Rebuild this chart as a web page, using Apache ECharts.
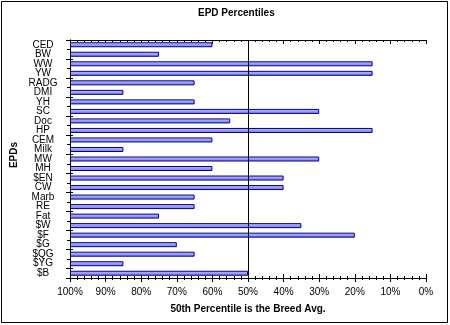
<!DOCTYPE html>
<html>
<head>
<meta charset="utf-8">
<script src="https://cdn.jsdelivr.net/npm/echarts@6/dist/echarts.min.js"></script>
<style>html,body{margin:0;padding:0;background:#fff}#c{width:450px;height:325px}</style>
</head>
<body>
<div id="c"></div>
<script>
const categories = ['CED','BW','WW','YW','RADG','DMI','YH','SC','Doc','HP','CEM','Milk','MW','MH','$EN','CW','Marb','RE','Fat','$W','$F','$G','$QG','$YG','$B'];
const percentiles = [60,75,15,15,65,85,65,30,55,15,60,85,30,60,40,40,65,65,75,35,20,70,65,85,50];
const tickLabels = ['100%','90%','80%','70%','60%','50%','40%','30%','20%','10%','0%'];
const breedAvg = 50;
const chartTitle = 'EPD Percentiles';
const xTitle = '50th Percentile is the Breed Avg.';
const yTitle = 'EPDs';

// axis runs from 100% (left) to 0% (right); bars grow from the left edge
const barData = percentiles.map(p => 100 - p);
const font = 'Liberation Sans, Arial, sans-serif';

const chart = echarts.init(document.getElementById('c'), null, {renderer: 'canvas'});
const baseX = {type: 'value', min: 0, max: 100, interval: 10, gridIndex: 0, splitLine: {show: false}};
const baseY = {type: 'category', data: categories, inverse: true, gridIndex: 0, splitLine: {show: false}};
chart.setOption({
  animation: false,
  backgroundColor: '#fff',
  grid: {left: 70, right: 24, top: 40, bottom: 47, containLabel: false},
  xAxis: [
    Object.assign({}, baseX, {
      position: 'bottom',
      axisLine: {show: true, lineStyle: {color: '#000', width: 1}},
      axisTick: {show: true, length: 4, lineStyle: {color: '#000'}},
      minorTick: {show: true, splitNumber: 5, length: 2, lineStyle: {color: '#000'}},
      axisLabel: {show: true, color: '#000', fontFamily: font, fontSize: 10, margin: 9,
        formatter: v => tickLabels[Math.round(v / 10)]}
    }),
    Object.assign({}, baseX, {
      position: 'bottom',
      axisLine: {show: false},
      axisTick: {show: true, inside: true, length: 4, lineStyle: {color: '#000'}},
      minorTick: {show: true, splitNumber: 5, length: 2, lineStyle: {color: '#000'}},
      axisLabel: {show: false}
    }),
    Object.assign({}, baseX, {
      position: 'top',
      axisLine: {show: true, lineStyle: {color: '#000', width: 1}},
      axisTick: {show: true, inside: true, length: 4, lineStyle: {color: '#000'}},
      minorTick: {show: true, splitNumber: 5, length: 2, lineStyle: {color: '#000'}},
      axisLabel: {show: false}
    })
  ],
  yAxis: [
    Object.assign({}, baseY, {
      position: 'left',
      axisLine: {show: true, lineStyle: {color: '#000', width: 1}},
      axisTick: {show: true, length: 3, lineStyle: {color: '#000'}},
      axisLabel: {show: true, interval: 0, color: '#000', fontFamily: font, fontSize: 10,
        align: 'center', margin: 27, lineHeight: 10}
    }),
    Object.assign({}, baseY, {
      position: 'left',
      axisLine: {show: false},
      axisTick: {show: true, inside: true, length: 3, lineStyle: {color: '#000'}},
      axisLabel: {show: false}
    }),
    Object.assign({}, baseY, {
      position: 'right',
      axisLine: {show: true, lineStyle: {color: '#000', width: 1}},
      axisTick: {show: true, inside: true, length: 4, lineStyle: {color: '#000'}},
      axisLabel: {show: false}
    })
  ],
  series: [{
    type: 'bar',
    xAxisIndex: 0,
    yAxisIndex: 0,
    data: barData,
    barWidth: 5,
    itemStyle: {
      color: new echarts.graphic.LinearGradient(0, 0, 0, 1, [
        {offset: 0, color: '#c4c4ff'},
        {offset: 0.5, color: '#9a9aff'},
        {offset: 1, color: '#7a7ae6'}
      ]),
      borderColor: '#000080',
      borderWidth: 1
    },
    markLine: {
      silent: true,
      symbol: 'none',
      label: {show: false},
      lineStyle: {color: '#000', width: 1, type: 'solid'},
      data: [{xAxis: 100 - breedAvg}]
    }
  }],
  graphic: [
    {type: 'rect', shape: {x: 1.5, y: 1.5, width: 446, height: 321}, style: {fill: 'none', stroke: '#000', lineWidth: 1}, silent: true},
    {type: 'text', left: 198, top: 8, style: {text: chartTitle, font: 'bold 10px ' + font, fill: '#000'}},
    {type: 'text', x: 248, y: 309, style: {text: xTitle, font: 'bold 10px ' + font, fill: '#000', textAlign: 'center', textVerticalAlign: 'middle'}},
    {type: 'text', x: 14, y: 155, rotation: Math.PI / 2, style: {text: yTitle, font: 'bold 10px ' + font, fill: '#000', textAlign: 'center', textVerticalAlign: 'middle'}}
  ]
});
</script>
</body>
</html>
